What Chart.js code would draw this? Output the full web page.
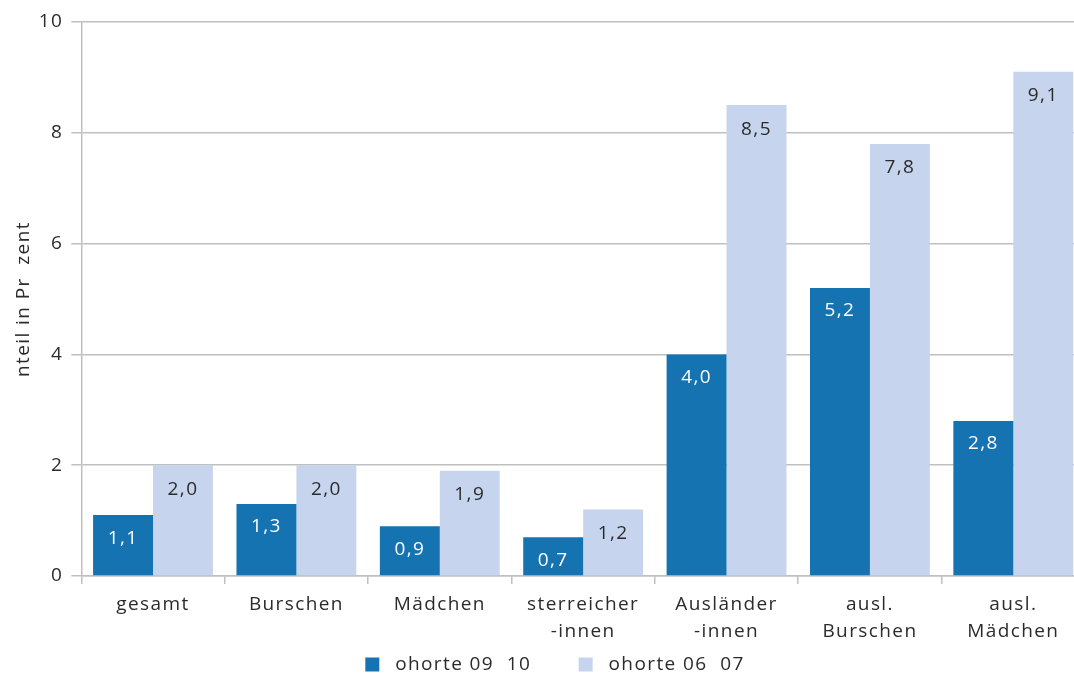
<!DOCTYPE html>
<html>
<head>
<meta charset="utf-8">
<script src="https://cdn.jsdelivr.net/npm/chart.js@4"></script>
<style>
  html, body { margin: 0; padding: 0; background: #fff; overflow: hidden; }
  #wrap { width: 1085px; height: 673px; position: relative; }
</style>
</head>
<body>
<div id="wrap"><canvas id="chart"></canvas></div>
<script>
const categories = [
    'gesamt',
    'Burschen',
    'Mädchen',
    ['sterreicher', '-innen'],
    ['Ausländer', '-innen'],
    ['ausl.', 'Burschen'],
    ['ausl.', 'Mädchen']
];
const kohorte0910 = [1.1, 1.3, 0.9, 0.7, 4.0, 5.2, 2.8];
const kohorte0607 = [2.0, 2.0, 1.9, 1.2, 8.5, 7.8, 9.1];
const yTicks = [0, 2, 4, 6, 8, 10];

const fontFamily = '"Open Sans", "DejaVu Sans", sans-serif';
const fontSize = 19;

// the original font is set a bit wider, so add some letter spacing
const spacing = {
    id: 'spacing',
    beforeUpdate(chart) { chart.ctx.letterSpacing = '1.4px'; },
    beforeDraw(chart) { chart.ctx.letterSpacing = '1.4px'; }
};

// draw the values inside the top of each bar
const barLabels = {
    id: 'barLabels',
    afterDatasetsDraw(chart) {
        const ctx = chart.ctx;
        ctx.save();
        ctx.font = fontSize + 'px ' + fontFamily;
        ctx.textAlign = 'center';
        ctx.textBaseline = 'middle';
        chart.data.datasets.forEach((ds, i) => {
            const meta = chart.getDatasetMeta(i);
            ctx.fillStyle = i === 0 ? '#ffffff' : '#2b2b2b';
            meta.data.forEach((bar, j) => {
                const txt = ds.data[j].toFixed(1).replace('.', ',');
                ctx.fillText(txt, bar.x, bar.y + (i === 0 ? 23 : 24));
            });
        });
        ctx.restore();
    }
};

new Chart(document.getElementById('chart'), {
    type: 'bar',
    data: {
        labels: categories,
        datasets: [{
            label: 'ohorte 09  10',
            data: kohorte0910,
            backgroundColor: '#1473b0',
            categoryPercentage: 0.836,
            barPercentage: 1.0
        }, {
            label: 'ohorte 06  07',
            data: kohorte0607,
            backgroundColor: '#c6d5ed',
            categoryPercentage: 0.836,
            barPercentage: 1.0
        }]
    },
    options: {
        responsive: true,
        maintainAspectRatio: false,
        animation: false,
        layout: { padding: { top: 22, right: 0, left: 25, bottom: -11 } },
        plugins: {
            tooltip: { enabled: false },
            legend: {
                position: 'bottom',
                labels: {
                    boxWidth: 14,
                    boxHeight: 14,
                    padding: 3,
                    color: '#2b2b2b',
                    font: { family: fontFamily, size: fontSize },
                    generateLabels: chart => {
                        const items = Chart.defaults.plugins.legend.labels.generateLabels(chart);
                        items.forEach((it, i) => {
                            it.text = ' ' + it.text + (i === 0 ? '       ' : '');
                        });
                        return items;
                    }
                }
            }
        },
        scales: {
            x: {
                grid: {
                    drawOnChartArea: false,
                    drawTicks: true,
                    tickLength: 8,
                    color: '#c0c0c0',
                    lineWidth: 1.5
                },
                border: { color: '#c0c0c0', width: 1.5 },
                ticks: {
                    color: '#2b2b2b',
                    padding: 7,
                    font: { family: fontFamily, size: fontSize, lineHeight: 1.42 }
                }
            },
            y: {
                min: 0,
                max: 10,
                afterBuildTicks: axis => { axis.ticks = yTicks.map(v => ({ value: v })); },
                grid: { color: '#c0c0c0', lineWidth: 1.5, tickLength: 10 },
                border: { color: '#c0c0c0', width: 1.5 },
                ticks: {
                    color: '#2b2b2b',
                    padding: 8,
                    font: { family: fontFamily, size: fontSize }
                },
                title: {
                    display: true,
                    text: 'nteil in Pr  zent',
                    color: '#2b2b2b',
                    padding: { top: -13, bottom: -4 },
                    font: { family: fontFamily, size: fontSize }
                }
            }
        }
    },
    plugins: [spacing, barLabels]
});
</script>
</body>
</html>
